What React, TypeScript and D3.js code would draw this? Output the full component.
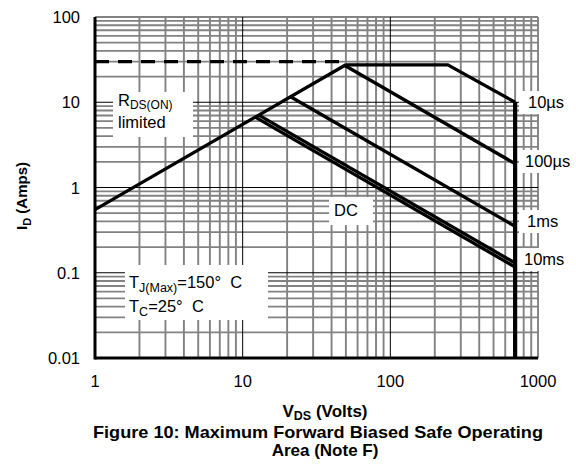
import React from 'react';
import * as d3 from 'd3';

// values (V in volts, I in amps)
const xTicks = [1, 10, 100, 1000];
const yTicks = [0.01, 0.1, 1, 10, 100];
const yTickLabels = ['0.01', '0.1', '1', '10', '100'];

const rdsLimitV = [1, 50];
const rdsLimitI = [0.55, 27.5];
const packageLimitV = [1, 50];
const packageLimitI = [30, 30];
const pulse10usV = [50, 245, 700];
const pulse10usI = [27.5, 27.5, 10];
const pulse100usV = [49.2, 700];
const pulse100usI = [27, 1.9];
const pulse1msV = [21.1, 700];
const pulse1msI = [11.6, 0.35];
const pulse10msV = [12.86, 700];
const pulse10msI = [7.07, 0.13];
const dcV = [12.17, 700];
const dcI = [6.7, 0.1165];
const breakdownV = [700, 700];
const breakdownI = [10, 0.01];

const width = 576;
const height = 467;
const margin = { top: 17, right: 38, bottom: 109, left: 95 };

const font = 'Liberation Sans, Arial, Helvetica, sans-serif';
const gridGray = '#828282';

const App: React.FC = () => {
  const x = d3.scaleLog().domain([1, 1000]).range([margin.left, width - margin.right]);
  const y = d3.scaleLog().domain([0.01, 100]).range([height - margin.bottom, margin.top]);

  const line = d3.line<[number, number]>()
    .x(d => x(d[0]))
    .y(d => y(d[1]));
  const path = (vs: number[], is: number[]) => line(vs.map((v, i) => [v, is[i]] as [number, number])) || '';

  // minor grid positions, 2..9 per decade
  const xMinor: number[] = [];
  [1, 10, 100].forEach(d => { for (let k = 2; k <= 9; k++) xMinor.push(k * d); });
  const yMinor: number[] = [];
  [0.01, 0.1, 1, 10].forEach(d => { for (let k = 2; k <= 9; k++) yMinor.push(k * d); });

  const [x0, x1] = x.range();
  const [y0, y1] = y.range();

  const curves: Array<[number[], number[]]> = [
    [rdsLimitV, rdsLimitI],
    [pulse10usV, pulse10usI],
    [pulse100usV, pulse100usI],
    [pulse1msV, pulse1msI],
    [pulse10msV, pulse10msI],
    [dcV, dcI],
  ];

  const rightLabels = [
    { text: '10µs', x: 528, y: 108 },
    { text: '100µs', x: 525, y: 167 },
    { text: '1ms', x: 527, y: 227 },
    { text: '10ms', x: 524, y: 265 },
  ];

  return (
    <svg width={width} height={height} style={{ position: 'absolute', left: 0, top: 0, background: '#fff' }}
      fontFamily={font}>
      {/* minor grid */}
      <g stroke={gridGray} strokeWidth={1.9}>
        {xMinor.map(v => <line key={'xm' + v} x1={x(v)} x2={x(v)} y1={y0} y2={y1} />)}
        {yMinor.map(v => <line key={'ym' + v} x1={x0} x2={x1} y1={y(v)} y2={y(v)} />)}
        <line x1={x(1000)} x2={x(1000)} y1={y0} y2={y1} />
        <line x1={x0} x2={x1} y1={y(100)} y2={y(100)} />
      </g>
      {/* decade lines */}
      <g stroke="#000" strokeWidth={1}>
        {[10, 100].map(v => <line key={'xd' + v} x1={x(v)} x2={x(v)} y1={y0} y2={y1} />)}
        {[0.1, 1, 10].map(v => <line key={'yd' + v} x1={x0} x2={x1} y1={y(v)} y2={y(v)} />)}
      </g>

      {/* label backgrounds */}
      <g fill="#fff">
        <rect x={113} y={92} width={80} height={45} />
        <rect x={125} y={265} width={143} height={55} />
        <rect x={329} y={197} width={44} height={28} />
        {rightLabels.map(l => <rect key={'b' + l.text} x={519} y={l.y - 17} width={57} height={23} />)}
      </g>

      {/* axes */}
      <g stroke="#000" strokeWidth={3}>
        <line x1={x0} x2={x0} y1={y0 + 1.5} y2={y1} />
        <line x1={x0} x2={x1} y1={y0} y2={y0} />
      </g>

      {/* curves */}
      <path d={path(packageLimitV, packageLimitI)} fill="none" stroke="#000" strokeWidth={3.2} strokeDasharray="14,9" />
      {curves.map((c, i) => (
        <path key={i} d={path(c[0], c[1])} fill="none" stroke="#000" strokeWidth={3.3} strokeLinejoin="miter" />
      ))}
      <path d={path(breakdownV, breakdownI)} fill="none" stroke="#000" strokeWidth={4.2} />

      {/* tick labels */}
      <g fontSize={16.5} fill="#000">
        {xTicks.map(v => (
          <text key={'xt' + v} x={x(v)} y={387} textAnchor="middle">{v}</text>
        ))}
        {yTicks.map((v, i) => (
          <text key={'yt' + v} x={80} y={y(v) + 6} textAnchor="end">{yTickLabels[i]}</text>
        ))}
      </g>

      {/* annotations */}
      <g fontSize={16.5} fill="#000">
        <text x={118} y={106}>R<tspan fontSize={12} dy={3}>DS(ON)</tspan></text>
        <text x={118} y={128}>limited</text>
        <text x={334} y={216}>DC</text>
        <text x={129} y={288}>T<tspan fontSize={12.5} dy={4}>J(Max)</tspan><tspan dy={-4}>=150°{'\u00a0 '}C</tspan></text>
        <text x={129} y={312}>T<tspan fontSize={12.5} dy={4}>C</tspan><tspan dy={-4}>=25°{'\u00a0 '}C</tspan></text>
        {rightLabels.map(l => <text key={l.text} x={l.x} y={l.y}>{l.text}</text>)}
      </g>

      {/* axis titles and caption */}
      <g fontWeight="bold" fill="#000" textAnchor="middle">
        <text fontSize={15} transform="translate(27,196) rotate(-90)">I<tspan fontSize={11} dy={4}>D</tspan><tspan dy={-4}> (Amps)</tspan></text>
        <text fontSize={17} x={325} y={417}>V<tspan fontSize={12.5} dy={3}>DS</tspan><tspan dy={-3}> (Volts)</tspan></text>
        <text fontSize={17} x={318} y={438} textLength={450} lengthAdjust="spacingAndGlyphs">Figure 10: Maximum Forward Biased Safe Operating</text>
        <text fontSize={17} x={325} y={456}>Area (Note F)</text>
      </g>
    </svg>
  );
};

export default App;
